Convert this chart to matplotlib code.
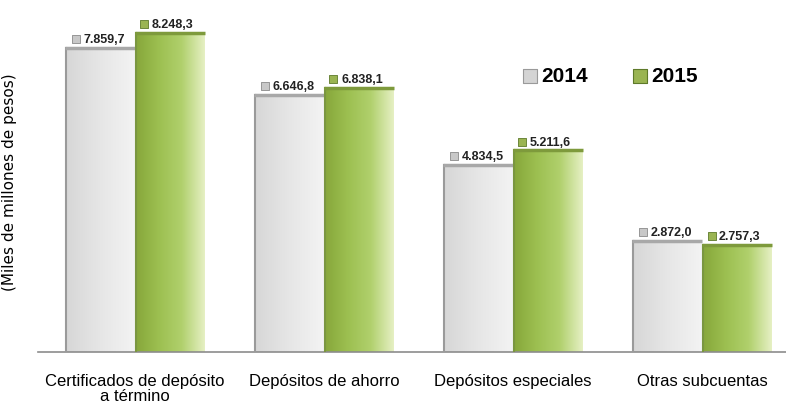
import numpy as np
import matplotlib
matplotlib.use("Agg")
import matplotlib.pyplot as plt
from matplotlib.colors import LinearSegmentedColormap

categorias = ["Certificados de depósito\na término", "Depósitos de ahorro",
              "Depósitos especiales", "Otras subcuentas"]
valores_2014 = [7859.7, 6646.8, 4834.5, 2872.0]
valores_2015 = [8248.3, 6838.1, 5211.6, 2757.3]
etiquetas_2014 = ["7.859,7", "6.646,8", "4.834,5", "2.872,0"]
etiquetas_2015 = ["8.248,3", "6.838,1", "5.211,6", "2.757,3"]
series = ["2014", "2015"]

plt.rcParams['font.family'] = ['Liberation Sans', 'DejaVu Sans']

gris = LinearSegmentedColormap.from_list("gris", ["#d6d6d6", "#e6e6e6", "#f3f3f3"])
verde = LinearSegmentedColormap.from_list("verde", ["#86a63a", "#9cbf50", "#b0d06c", "#e6f0c4"])
grad = np.linspace(0, 1, 256).reshape(1, -1)

fig = plt.figure(figsize=(7.86, 4.06), dpi=100)
ax = fig.add_axes([38 / 786, 53 / 406, 748 / 786, 348 / 406])
ancho = 0.37
x = np.arange(len(categorias))


def barra(x0, h, cmap, borde, sombra):
    ax.imshow(grad, cmap=cmap, extent=[x0, x0 + ancho, 0, h], aspect='auto', zorder=2)
    # sombra a la izquierda y borde superior
    ax.plot([x0 + 0.005, x0 + 0.005], [0, h], color=sombra, lw=1.5, zorder=3)
    ax.plot([x0, x0 + ancho], [h, h], color=borde, lw=2.5, zorder=3,
            solid_capstyle='butt')


for i in x:
    barra(i - ancho, valores_2014[i], gris, "#a8a8a8", "#9a9a9a")
    barra(i, valores_2015[i], verde, "#7e9a3c", "#7a9640")
    ax.scatter(i - ancho + 0.06, valores_2014[i] + 230, marker='s', s=30,
               color="#c8c8c8", edgecolor="#8a8a8a", lw=0.6, zorder=4)
    ax.text(i - ancho + 0.1, valores_2014[i] + 230, etiquetas_2014[i],
            fontsize=9, fontweight='bold', va='center', ha='left', color="#222222")
    ax.scatter(i + 0.05, valores_2015[i] + 230, marker='s', s=30,
               color="#9ab452", edgecolor="#5e7a2a", lw=0.6, zorder=4)
    ax.text(i + 0.09, valores_2015[i] + 230, etiquetas_2015[i],
            fontsize=9, fontweight='bold', va='center', ha='left', color="#222222")

# leyenda manual
ax.scatter(2.09, 7150, marker='s', s=110, color="#d4d4d4", edgecolor="#9a9a9a", lw=0.8)
ax.text(2.15, 7150, series[0], fontsize=15, fontweight='bold', va='center', ha='left')
ax.scatter(2.67, 7150, marker='s', s=110, color="#9ab452", edgecolor="#5e7a2a", lw=0.8)
ax.text(2.73, 7150, series[1], fontsize=15, fontweight='bold', va='center', ha='left')

ax.set_xlim(-0.513, 3.444)
ax.set_ylim(0, 9000)
ax.set_xticks(x)
ax.set_xticklabels(categorias, fontsize=12, linespacing=1.05)
ax.tick_params(axis='x', length=0, pad=15)
ax.set_yticks([])
for lado in ["top", "right", "left"]:
    ax.spines[lado].set_visible(False)
ax.spines["bottom"].set_color("#8c8c8c")
ax.spines["bottom"].set_linewidth(1.2)
ax.set_ylabel("(Miles de millones de pesos)", fontsize=11, family='DejaVu Sans')
ax.yaxis.set_label_coords(-0.028, 0.49)

fig.savefig("out.png", dpi=100)
